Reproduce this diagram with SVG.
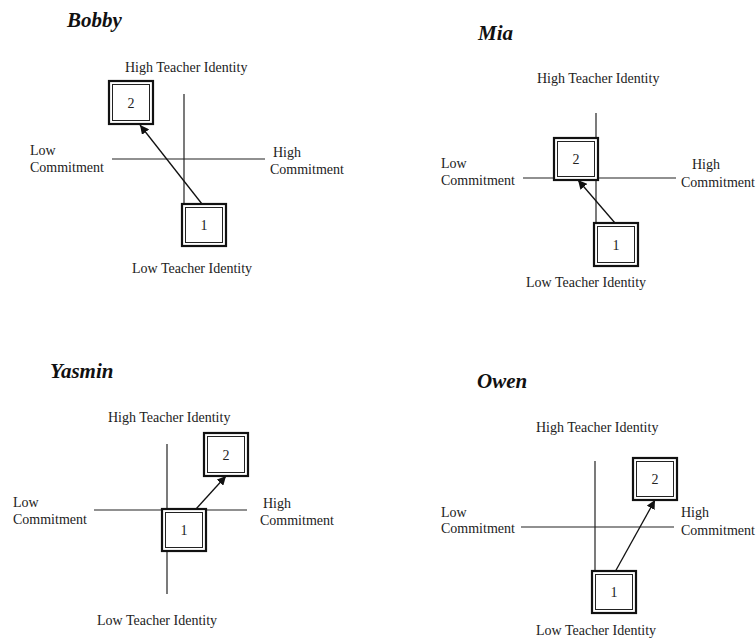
<svg xmlns="http://www.w3.org/2000/svg" width="756" height="639" viewBox="0 0 756 639">
<style>
  .title { font-family: "Liberation Serif", "Times New Roman", serif; font-weight: bold; font-style: italic; font-size: 21px; fill: #111; }
  .lbl { font-family: "Liberation Serif", "Times New Roman", serif; font-size: 14px; fill: #222; }
  .num { font-family: "Liberation Serif", "Times New Roman", serif; font-size: 14px; fill: #222; text-anchor: middle; }
  .axis { stroke: #222; stroke-width: 1.2; fill: none; }
  .outer { fill: #fff; stroke: #111; stroke-width: 2.2; }
  .inner { fill: #fff; stroke: #222; stroke-width: 1; }
  .arrow { stroke: #111; stroke-width: 1.3; fill: none; marker-end: url(#ah); }
</style>
<defs>
  <marker id="ah" viewBox="0 0 10 10" refX="10" refY="5" markerWidth="9" markerHeight="9" markerUnits="userSpaceOnUse" orient="auto">
    <path d="M0,0 L10,5 L0,10 z" fill="#111"/>
  </marker>
</defs>
<rect width="756" height="639" fill="#fff"/>

<!-- Bobby -->
<g id="bobby">
  <text class="title" x="67" y="27">Bobby</text>
  <text class="lbl" x="125" y="72">High Teacher Identity</text>
  <text class="lbl" x="132" y="273">Low Teacher Identity</text>
  <text class="lbl" x="30" y="155">Low</text>
  <text class="lbl" x="30" y="172">Commitment</text>
  <text class="lbl" x="273" y="157">High</text>
  <text class="lbl" x="270" y="174">Commitment</text>
  <line class="axis" x1="184" y1="94" x2="184" y2="206"/>
  <line class="axis" x1="112" y1="159" x2="265" y2="159"/>
</g>
<g id="bobby-connectors">
  <line class="arrow" x1="202" y1="204" x2="140" y2="125"/>
</g>
<g id="bobby-node2">
  <rect class="outer" x="109" y="81" width="44" height="43"/>
  <rect class="inner" x="112.5" y="84.5" width="37" height="36"/>
  <text class="num" x="131" y="108">2</text>
</g>
<g id="bobby-node1">
  <rect class="outer" x="182" y="204" width="44" height="42"/>
  <rect class="inner" x="185.5" y="207.5" width="37" height="35"/>
  <text class="num" x="204" y="230">1</text>
</g>

<!-- Mia -->
<g id="mia">
  <text class="title" x="478" y="40">Mia</text>
  <text class="lbl" x="537" y="83">High Teacher Identity</text>
  <text class="lbl" x="526" y="287">Low Teacher Identity</text>
  <text class="lbl" x="441" y="168">Low</text>
  <text class="lbl" x="441" y="185">Commitment</text>
  <text class="lbl" x="692" y="169">High</text>
  <text class="lbl" x="681" y="187">Commitment</text>
  <line class="axis" x1="596" y1="113" x2="596" y2="224"/>
  <line class="axis" x1="523" y1="178" x2="676" y2="178"/>
</g>
<g id="mia-connectors">
  <line class="arrow" x1="615" y1="223" x2="578" y2="180"/>
</g>
<g id="mia-node2">
  <rect class="outer" x="554" y="138" width="44" height="42"/>
  <rect class="inner" x="557.5" y="141.5" width="37" height="35"/>
  <text class="num" x="576" y="164">2</text>
</g>
<g id="mia-node1">
  <rect class="outer" x="594" y="223" width="44" height="43"/>
  <rect class="inner" x="597.5" y="226.5" width="37" height="36"/>
  <text class="num" x="616" y="250">1</text>
</g>

<!-- Yasmin -->
<g id="yasmin">
  <text class="title" x="50" y="378">Yasmin</text>
  <text class="lbl" x="108" y="422">High Teacher Identity</text>
  <text class="lbl" x="97" y="625">Low Teacher Identity</text>
  <text class="lbl" x="13" y="507">Low</text>
  <text class="lbl" x="13" y="524">Commitment</text>
  <text class="lbl" x="263" y="508">High</text>
  <text class="lbl" x="260" y="525">Commitment</text>
  <line class="axis" x1="167" y1="444" x2="167" y2="594"/>
  <line class="axis" x1="94" y1="510" x2="247" y2="510"/>
</g>
<g id="yasmin-connectors">
  <line class="arrow" x1="196" y1="509" x2="226" y2="476"/>
</g>
<g id="yasmin-node1">
  <rect class="outer" x="162" y="509" width="44" height="42"/>
  <rect class="inner" x="165.5" y="512.5" width="37" height="35"/>
  <text class="num" x="184" y="535">1</text>
</g>
<g id="yasmin-node2">
  <rect class="outer" x="204" y="433" width="44" height="43"/>
  <rect class="inner" x="207.5" y="436.5" width="37" height="36"/>
  <text class="num" x="226" y="460">2</text>
</g>

<!-- Owen -->
<g id="owen">
  <text class="title" x="477" y="388">Owen</text>
  <text class="lbl" x="536" y="432">High Teacher Identity</text>
  <text class="lbl" x="536" y="635">Low Teacher Identity</text>
  <text class="lbl" x="441" y="517">Low</text>
  <text class="lbl" x="441" y="533">Commitment</text>
  <text class="lbl" x="681" y="517">High</text>
  <text class="lbl" x="681" y="535">Commitment</text>
  <line class="axis" x1="595" y1="461" x2="595" y2="573"/>
  <line class="axis" x1="521" y1="527" x2="674" y2="527"/>
</g>
<g id="owen-connectors">
  <line class="arrow" x1="615" y1="572" x2="655" y2="500"/>
</g>
<g id="owen-node2">
  <rect class="outer" x="633" y="458" width="44" height="42"/>
  <rect class="inner" x="636.5" y="461.5" width="37" height="35"/>
  <text class="num" x="655" y="484">2</text>
</g>
<g id="owen-node1">
  <rect class="outer" x="592" y="571" width="44" height="42"/>
  <rect class="inner" x="595.5" y="574.5" width="37" height="35"/>
  <text class="num" x="614" y="597">1</text>
</g>
</svg>
